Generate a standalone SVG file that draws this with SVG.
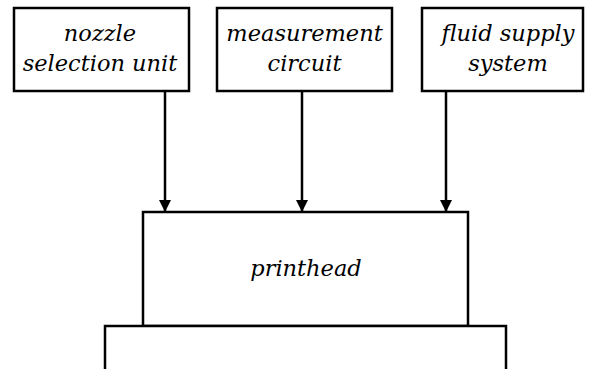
<svg xmlns="http://www.w3.org/2000/svg" width="595" height="369" viewBox="0 0 595 369">
<style>
.box{fill:#fff;stroke:#000;stroke-width:2.5}
.t{font-family:"DejaVu Serif","Liberation Serif",serif;font-style:italic;font-size:22.5px;text-anchor:middle;fill:#000}
.c{stroke:#000;stroke-width:2.5;fill:none}
</style>
<defs>
<marker id="ah" markerUnits="userSpaceOnUse" markerWidth="12" markerHeight="12" refX="12" refY="6" orient="auto">
<path d="M0,0 L12,6 L0,12 z" fill="#000"/>
</marker>
</defs>
<g id="nozzle">
<rect class="box" x="14" y="8" width="175" height="83"/>
<text class="t" x="100" y="41">nozzle</text>
<text class="t" x="100" y="71">selection unit</text>
</g>
<g id="measurement">
<rect class="box" x="217" y="8" width="175" height="83"/>
<text class="t" x="304.5" y="41">measurement</text>
<text class="t" x="304.5" y="71">circuit</text>
</g>
<g id="fluid">
<rect class="box" x="422" y="8" width="161" height="83"/>
<text class="t" x="508" y="41">fluid supply</text>
<text class="t" x="508" y="71">system</text>
</g>
<g id="printhead">
<rect class="box" x="143" y="212" width="325" height="114"/>
<text class="t" x="306" y="276">printhead</text>
</g>
<g id="base">
<rect class="box" x="105" y="326" width="401" height="60"/>
</g>
<g id="connectors">
<line class="c" x1="165" y1="91" x2="165" y2="212" marker-end="url(#ah)"/>
<line class="c" x1="302" y1="91" x2="302" y2="212" marker-end="url(#ah)"/>
<line class="c" x1="446" y1="91" x2="446" y2="212" marker-end="url(#ah)"/>
</g>
</svg>
